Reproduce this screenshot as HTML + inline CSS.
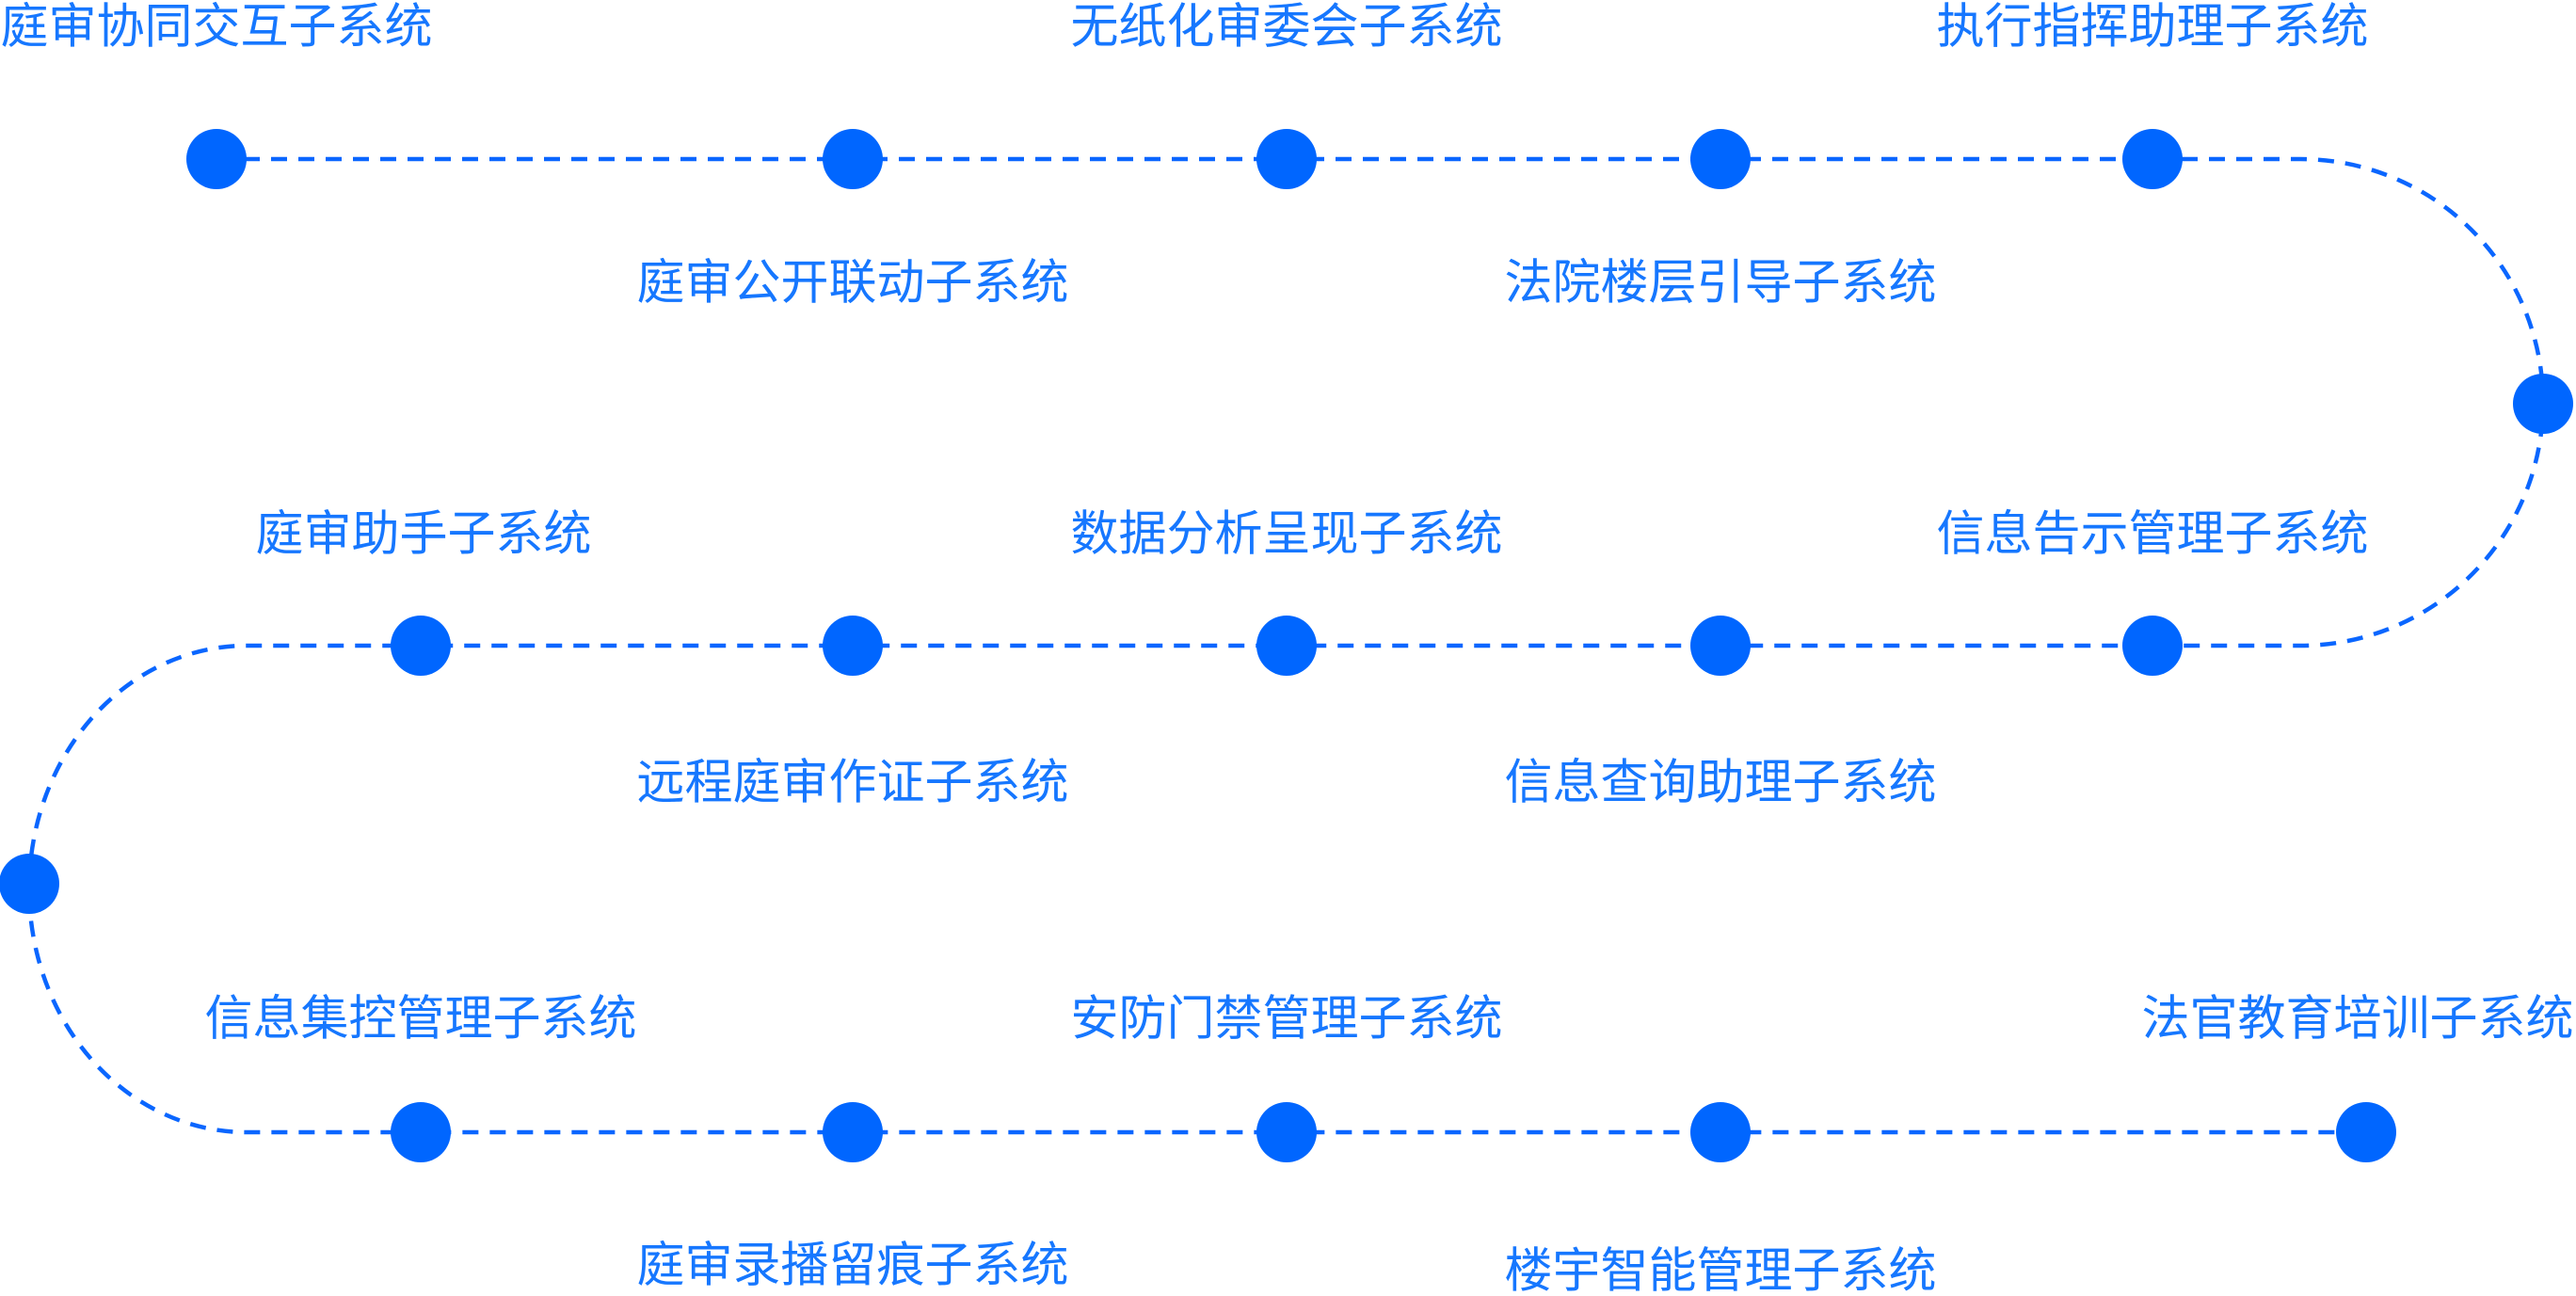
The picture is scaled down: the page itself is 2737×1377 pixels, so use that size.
<!DOCTYPE html>
<html><head><meta charset="utf-8"><style>
html,body{margin:0;padding:0;background:#fff;}
svg{display:block;}
text{font-family:"Liberation Sans","Noto Sans CJK SC",sans-serif;font-size:51px;fill:#1677ff;text-anchor:middle;dominant-baseline:central;}
</style></head><body>
<svg width="2737" height="1377" viewBox="0 0 2737 1377" xmlns="http://www.w3.org/2000/svg">
<g fill="none" stroke="#0a66ff" stroke-width="4.5" stroke-dasharray="17 12">
<path d="M230 169 H2444 A258 258.5 0 0 1 2444 686 H262 A231 258.5 0 0 0 262 1203 H2514"/>
</g>
<g fill="#0066ff">
<circle cx="230" cy="169" r="32"/><circle cx="906" cy="169" r="32"/><circle cx="1367" cy="169" r="32"/><circle cx="1828" cy="169" r="32"/><circle cx="2287" cy="169" r="32"/>
<circle cx="2702" cy="429" r="32"/>
<circle cx="447" cy="686" r="32"/><circle cx="906" cy="686" r="32"/><circle cx="1367" cy="686" r="32"/><circle cx="1828" cy="686" r="32"/><circle cx="2287" cy="686" r="32"/>
<circle cx="31" cy="939" r="32"/>
<circle cx="447" cy="1203" r="32"/><circle cx="906" cy="1203" r="32"/><circle cx="1367" cy="1203" r="32"/><circle cx="1828" cy="1203" r="32"/><circle cx="2514" cy="1203" r="32"/>
</g>
<text x="230" y="28">庭审协同交互子系统</text>
<text x="1367" y="28">无纸化审委会子系统</text>
<text x="2287" y="28">执行指挥助理子系统</text>
<text x="906" y="300">庭审公开联动子系统</text>
<text x="1828" y="300">法院楼层引导子系统</text>
<text x="450" y="567">庭审助手子系统</text>
<text x="1367" y="567">数据分析呈现子系统</text>
<text x="2287" y="567">信息告示管理子系统</text>
<text x="906" y="831">远程庭审作证子系统</text>
<text x="1828" y="831">信息查询助理子系统</text>
<text x="447" y="1082">信息集控管理子系统</text>
<text x="1367" y="1082">安防门禁管理子系统</text>
<text x="2505" y="1082">法官教育培训子系统</text>
<text x="906" y="1344">庭审录播留痕子系统</text>
<text x="1828" y="1350">楼宇智能管理子系统</text>
</svg>
</body></html>
